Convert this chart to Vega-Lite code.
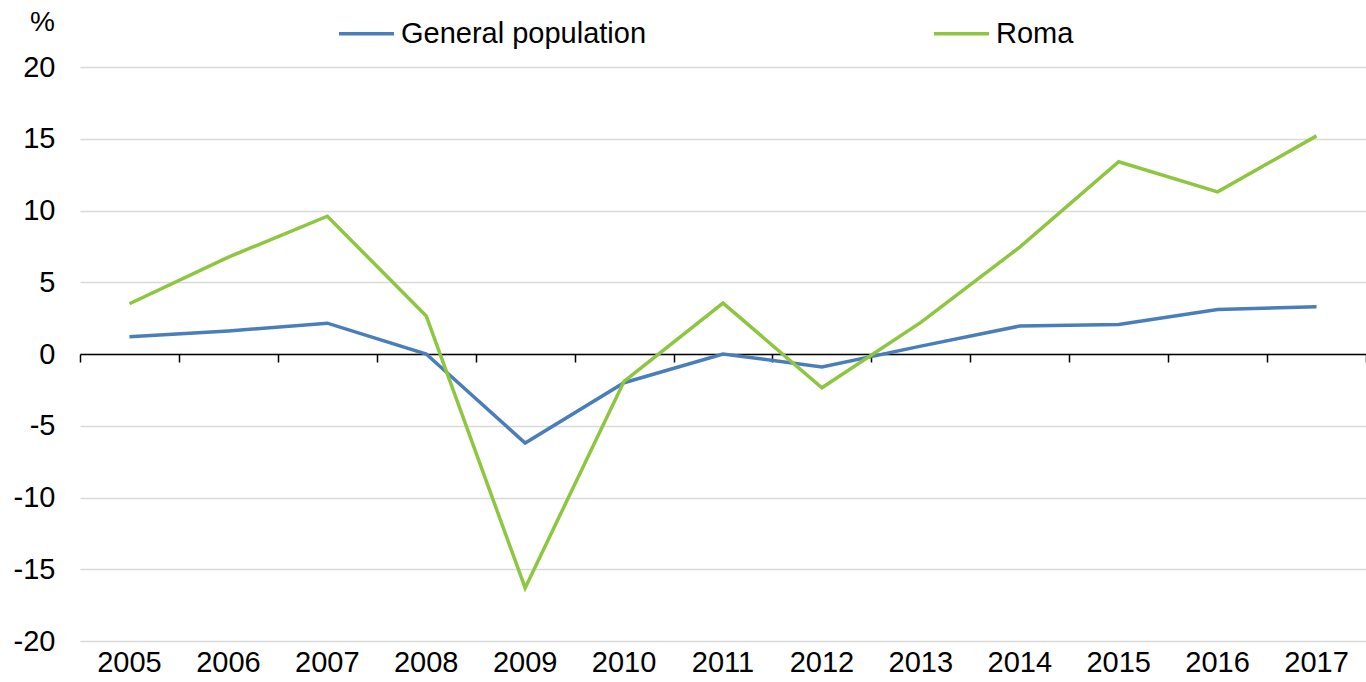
{
  "$schema": "https://vega.github.io/schema/vega-lite/v6.json",
  "width": 1286,
  "height": 574,
  "autosize": {"type": "none"},
  "padding": {"left": 80, "top": 67, "right": 0, "bottom": 41},
  "background": "white",
  "config": {
    "view": {"stroke": null},
    "font": "Liberation Sans",
    "axis": {"labelFont": "Liberation Sans", "labelColor": "black", "labelFontSize": 29},
    "legend": {"labelFont": "Liberation Sans", "labelColor": "black", "labelFontSize": 29}
  },
  "data": {
    "values": [
      {"year": "2005", "series": "General population", "value": 1.2},
      {"year": "2006", "series": "General population", "value": 1.6},
      {"year": "2007", "series": "General population", "value": 2.15},
      {"year": "2008", "series": "General population", "value": 0.0},
      {"year": "2009", "series": "General population", "value": -6.2},
      {"year": "2010", "series": "General population", "value": -2.0},
      {"year": "2011", "series": "General population", "value": 0.0},
      {"year": "2012", "series": "General population", "value": -0.9},
      {"year": "2013", "series": "General population", "value": 0.55},
      {"year": "2014", "series": "General population", "value": 1.95},
      {"year": "2015", "series": "General population", "value": 2.05},
      {"year": "2016", "series": "General population", "value": 3.1},
      {"year": "2017", "series": "General population", "value": 3.3},
      {"year": "2005", "series": "Roma", "value": 3.5},
      {"year": "2006", "series": "Roma", "value": 6.75},
      {"year": "2007", "series": "Roma", "value": 9.6},
      {"year": "2008", "series": "Roma", "value": 2.65},
      {"year": "2009", "series": "Roma", "value": -16.3},
      {"year": "2010", "series": "Roma", "value": -1.9},
      {"year": "2011", "series": "Roma", "value": 3.55},
      {"year": "2012", "series": "Roma", "value": -2.35},
      {"year": "2013", "series": "Roma", "value": 2.2},
      {"year": "2014", "series": "Roma", "value": 7.45},
      {"year": "2015", "series": "Roma", "value": 13.4},
      {"year": "2016", "series": "Roma", "value": 11.3},
      {"year": "2017", "series": "Roma", "value": 15.2}
    ]
  },
  "resolve": {"axis": {"x": "independent", "y": "independent"}},
  "layer": [
    {
      "mark": {"type": "line", "strokeOpacity": 0},
      "encoding": {
        "x": {
          "field": "year", "type": "ordinal",
          "scale": {"type": "band", "paddingInner": 0, "paddingOuter": 0},
          "axis": {
            "orient": "bottom", "offset": -287, "labels": false, "title": null,
            "domain": true, "domainColor": "black", "domainWidth": 1.5,
            "ticks": true, "tickBand": "extent", "tickSize": 8, "tickColor": "black", "tickWidth": 1.5,
            "grid": false
          }
        },
        "y": {
          "field": "value", "type": "quantitative",
          "scale": {"domain": [-20, 20], "nice": false, "zero": false},
          "axis": {
            "values": [-20, -15, -10, -5, 0, 5, 10, 15, 20],
            "labelExpr": "'' + datum.value",
            "grid": true, "gridColor": "#d9d9d9", "gridWidth": 1.5,
            "domain": false, "ticks": false, "labelPadding": 25,
            "title": "%", "titleAngle": 0, "titleFontSize": 28, "titleFontWeight": "normal",
            "titleFont": "Liberation Sans", "titleColor": "black",
            "titleAlign": "center", "titleBaseline": "middle", "titleX": -38, "titleY": -45
          }
        }
      }
    },
    {
      "mark": {"type": "line", "strokeWidth": 3.5},
      "encoding": {
        "x": {
          "field": "year", "type": "ordinal", "bandPosition": 0.5,
          "scale": {"type": "band", "paddingInner": 0, "paddingOuter": 0},
          "axis": {
            "orient": "bottom", "labelAngle": 0, "labelPadding": 7, "title": null,
            "domain": false, "ticks": false, "grid": false
          }
        },
        "y": {
          "field": "value", "type": "quantitative",
          "scale": {"domain": [-20, 20], "nice": false, "zero": false},
          "axis": null
        },
        "color": {
          "field": "series", "type": "nominal",
          "scale": {"domain": ["General population", "Roma"], "range": ["#4a7ebb", "#8dc63f"]},
          "legend": {
            "orient": "none", "legendX": 257, "legendY": -63, "direction": "horizontal",
            "title": null, "symbolType": "stroke", "symbolSize": 3025, "symbolStrokeWidth": 3.5,
            "labelOffset": 5, "labelLimit": 0, "columnPadding": 280, "labelFontSize": 29
          }
        }
      }
    }
  ]
}
